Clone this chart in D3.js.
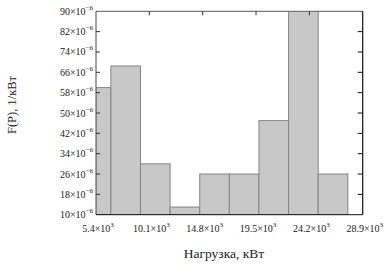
<!DOCTYPE html>
<html><head><meta charset="utf-8">
<script src="https://cdn.jsdelivr.net/npm/d3@7"></script>
<style>body{margin:0;background:#fff}svg{display:block}text{font-family:"Liberation Serif","DejaVu Serif",serif;fill:#222}</style>
</head><body>
<script>
// x tick labels (mantissa ×10^3)
const xTickVals = [5.4, 10.1, 14.8, 19.5, 24.2, 28.9];
// y tick labels (mantissa ×10^-6)
const yTickVals = [10, 18, 26, 34, 42, 50, 58, 66, 74, 82, 90];
// histogram bin edges (×10^3 kW)
const binEdges = [4.1, 6.71, 9.32, 11.93, 14.54, 17.15, 19.76, 22.37, 24.98, 27.59];
// densities (×10^-6 1/kW)
const densities = [60, 68.5, 30, 13, 26, 26, 47, 90, 26];
const xTitle = "Нагрузка, кВт";
const yTitle = "F(P), 1/кВт";

const W = 391, H = 270;
const L = 96, R = 362.7, T = 11.3, B = 214.7;
const svg = d3.select("body").append("svg").attr("width", W).attr("height", H);
const x = d3.scaleLinear().domain([5.4, 28.9]).range([L, R]);
const y = d3.scaleLinear().domain([10, 90]).range([B, T]);

svg.append("clipPath").attr("id", "clip").append("rect")
  .attr("x", L).attr("y", T).attr("width", R - L).attr("height", B - T);

const bins = densities.map((v, i) => ({x0: binEdges[i], x1: binEdges[i] + (binEdges[1] - binEdges[0]), v}));

svg.append("g").attr("clip-path", "url(#clip)").selectAll("rect").data(bins).join("rect")
  .attr("x", d => x(d.x0)).attr("width", d => x(d.x1) - x(d.x0))
  .attr("y", d => y(d.v)).attr("height", d => y(10) - y(d.v))
  .attr("fill", "#c8c8c8").attr("stroke", "#858585").attr("stroke-width", 1);

// frame
svg.append("line").attr("x1", L).attr("x2", R).attr("y1", T).attr("y2", T).attr("stroke", "#777").attr("stroke-width", 1.2);
svg.append("line").attr("x1", L).attr("x2", L).attr("y1", T).attr("y2", B).attr("stroke", "#444").attr("stroke-width", 1);
svg.append("line").attr("x1", R).attr("x2", R).attr("y1", T).attr("y2", B).attr("stroke", "#111").attr("stroke-width", 1.2);
svg.append("line").attr("x1", L).attr("x2", R).attr("y1", B).attr("y2", B).attr("stroke", "#111").attr("stroke-width", 1);

// ticks: left (inward), right (inward), top (inward)
svg.append("g").selectAll("line").data(yTickVals.slice(1, -1)).join("line")
  .attr("x1", L).attr("x2", L + 4).attr("y1", d => y(d)).attr("y2", d => y(d)).attr("stroke", "#333");
svg.append("g").selectAll("line").data(yTickVals.slice(1, -1)).join("line")
  .attr("x1", R).attr("x2", R - 5).attr("y1", d => y(d)).attr("y2", d => y(d)).attr("stroke", "#111");
svg.append("g").selectAll("line").data(xTickVals.slice(1, -1)).join("line")
  .attr("x1", d => x(d)).attr("x2", d => x(d)).attr("y1", T).attr("y2", T + 4).attr("stroke", "#333");

// y labels
const yl = svg.append("g").selectAll("text").data(yTickVals).join("text")
  .attr("x", 93).attr("y", d => y(d) + 3.5).attr("text-anchor", "end").attr("font-size", 10);
yl.append("tspan").text(d => d + "×10");
yl.append("tspan").attr("dy", -5).attr("font-size", 7).text("−6");

// x labels
const xl = svg.append("g").selectAll("text").data(xTickVals).join("text")
  .attr("x", d => x(d) + 2).attr("y", 232).attr("text-anchor", "middle").attr("font-size", 10);
xl.append("tspan").text(d => d.toFixed(1) + "×10");
xl.append("tspan").attr("dy", -5).attr("font-size", 7).text("3");

svg.append("text").attr("x", 224).attr("y", 258).attr("text-anchor", "middle").attr("font-size", 13.5).text(xTitle);
svg.append("text").attr("transform", "translate(16,105) rotate(-90)").attr("text-anchor", "middle").attr("font-size", 12.5).text(yTitle);
</script>
</body></html>
